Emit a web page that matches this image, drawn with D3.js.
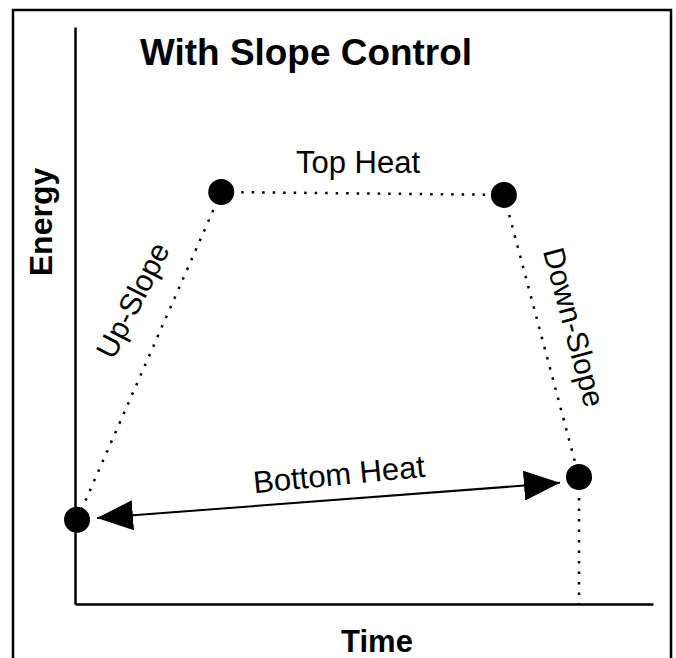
<!DOCTYPE html>
<html>
<head>
<meta charset="utf-8">
<script src="https://cdn.jsdelivr.net/npm/d3@7"></script>
<style>
    body { margin: 0; background: #fff; }
    svg text { font-family: "Liberation Sans", Arial, Helvetica, sans-serif; fill: #000; }
</style>
</head>
<body>
<svg id="chart" width="676" height="658"></svg>
<script>
// pulse profile (time and energy in % of the axes)
var pointNames = ["Start", "Top Start", "Top End", "Bottom"];
var timeValues = [0.35, 25.3, 74.2, 87.2];
var energyValues = [14.6, 71.4, 70.9, 22.0];
var segmentLabels = ["Up-Slope", "Top Heat", "Down-Slope"];

// bottom heat double arrow
var arrowTime = [3.8, 83.9];
var arrowEnergy = [14.9, 21.0];
var arrowLabel = "Bottom Heat";

var titleText = "With Slope Control";
var xTitle = "Time";
var yTitle = "Energy";

var dotDash = "2.5,8";

function drawChart() {
    var svg = d3.select("#chart");

    var x = d3.scaleLinear().domain([0, 100]).range([75, 653]);
    var y = d3.scaleLinear().domain([0, 100]).range([604, 27]);

    // frame round the picture
    svg.append("rect").attr("x", 13).attr("y", 10).attr("width", 658).attr("height", 700)
        .style("fill", "none").style("stroke", "#000").style("stroke-width", 2.5);

    // axes, no ticks
    svg.append("g").attr("transform", "translate(0," + y(0) + ")")
        .call(d3.axisBottom(x).ticks(0).tickSizeOuter(0));
    svg.append("g").attr("transform", "translate(" + x(0) + ",0)")
        .call(d3.axisLeft(y).ticks(0).tickSizeOuter(0));
    svg.selectAll(".domain").style("stroke", "#000").style("stroke-width", 2.5);

    var pts = timeValues.map(function (t, i) {
        return { name: pointNames[i], t: t, e: energyValues[i] };
    });

    // dotted profile lines
    var line = d3.line().x(function (d) { return x(d.t); }).y(function (d) { return y(d.e); });
    svg.append("path").attr("d", line(pts))
        .style("fill", "none").style("stroke", "#000").style("stroke-width", 2.5)
        .style("stroke-dasharray", dotDash);
    var last = pts[pts.length - 1];
    svg.append("path").attr("d", line([last, { t: last.t, e: 0 }]))
        .style("fill", "none").style("stroke", "#000").style("stroke-width", 2.5)
        .style("stroke-dasharray", dotDash);

    // points
    svg.append("g").selectAll("circle").data(pts).enter().append("circle")
        .attr("cx", function (d) { return x(d.t); })
        .attr("cy", function (d) { return y(d.e); })
        .attr("r", 13)
        .style("fill", "#000");

    // arrow heads
    var defs = svg.append("defs");
    defs.append("marker").attr("id", "head")
        .attr("markerUnits", "userSpaceOnUse")
        .attr("viewBox", "0 0 36 30")
        .attr("markerWidth", 36).attr("markerHeight", 30)
        .attr("refX", 36).attr("refY", 15)
        .attr("orient", "auto-start-reverse")
        .append("path").attr("d", "M0,0L36,15L0,30Z").style("fill", "#000");

    var arrowPts = arrowTime.map(function (t, i) { return { t: t, e: arrowEnergy[i] }; });
    svg.append("path").attr("d", line(arrowPts))
        .style("fill", "none").style("stroke", "#000").style("stroke-width", 2)
        .attr("marker-start", "url(#head)")
        .attr("marker-end", "url(#head)");

    // labels
    svg.append("text").attr("x", 140).attr("y", 65)
        .attr("textLength", 332).attr("lengthAdjust", "spacingAndGlyphs")
        .style("font-size", "36px").style("font-weight", "bold").text(titleText);

    svg.append("text").attr("transform", "translate(52,222) rotate(-90)")
        .attr("text-anchor", "middle")
        .style("font-size", "32px").style("font-weight", "bold").text(yTitle);

    svg.append("text").attr("x", 377).attr("y", 652).attr("text-anchor", "middle")
        .style("font-size", "31px").style("font-weight", "bold").text(xTitle);

    svg.append("text").attr("x", 358).attr("y", 173).attr("text-anchor", "middle")
        .style("font-size", "31px").text(segmentLabels[1]);

    svg.append("text").attr("transform", "translate(142,305) rotate(-63)")
        .attr("text-anchor", "middle")
        .style("font-size", "30px").text(segmentLabels[0]);

    svg.append("text").attr("transform", "translate(564,330) rotate(75)")
        .attr("text-anchor", "middle")
        .style("font-size", "30px").text(segmentLabels[2]);

    svg.append("text").attr("transform", "translate(340,485) rotate(-5.5)")
        .attr("text-anchor", "middle")
        .style("font-size", "31px").text(arrowLabel);
}

drawChart();
</script>
</body>
</html>
